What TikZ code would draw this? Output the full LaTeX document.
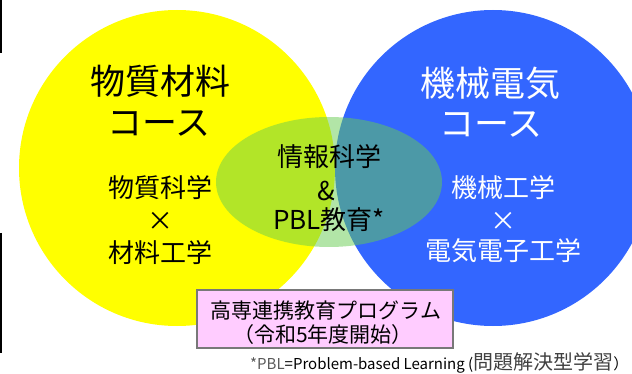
\documentclass[tikz,border=0pt]{standalone}
\usepackage{fontspec}
\setmainfont{Noto Sans CJK JP}
\definecolor{courseyellow}{RGB}{255,255,0}
\definecolor{courseblue}{RGB}{51,102,255}
\definecolor{infogreen}{RGB}{102,204,80}
\definecolor{progpink}{RGB}{255,204,255}
\definecolor{boxgray}{RGB}{120,120,120}

\begin{document}
\begin{tikzpicture}[x=1pt,y=-1pt,
  every node/.style={inner sep=0pt,anchor=center},
  coursename/.style={font=\fontsize{35}{40}\selectfont},
  subject/.style={font=\fontsize{26}{30}\selectfont},
  progtext/.style={font=\fontsize{21}{24}\selectfont},
  note/.style={font=\fontsize{15}{18}\selectfont,anchor=base west}]
\useasboundingbox (0,0) rectangle (632,374);
\clip (0,0) rectangle (632,374);
% side marks
\draw [black,line width=1.5pt] (0.75,0) -- (0.75,53);
\draw [black,line width=1.5pt] (0.75,233) -- (0.75,353);
% courses
\fill [courseyellow] (177,168) circle (158pt);
\fill [courseblue] (493,168) circle (158pt);
\fill [infogreen,opacity=0.5] (329,182) ellipse (113pt and 65pt);
% left course
\node [coursename] (matname) at (160,81) {物質材料};
\node [coursename] (matcourse) at (159,124) {コース};
\node [subject] (matsci) at (160,188) {物質科学};
\node [subject] (matx) at (160,221) {×};
\node [subject] (mateng) at (160,253) {材料工学};
% right course
\node [coursename,white] (mecname) at (490,83) {機械電気};
\node [coursename,white] (meccourse) at (491,125) {コース};
\node [subject,white] (meceng) at (503,188) {機械工学};
\node [subject,white] (mecx) at (503,221) {×};
\node [subject,white] (eleceng) at (503,251) {電気電子工学};
% overlap
\node [subject] (infosci) at (329,157) {情報科学};
\node [subject] (amp) at (326,191) {\&};
\node [subject] (pbl) at (329,220) {PBL教育*};
% program box
\draw [boxgray,fill=progpink,line width=1.2pt] (197,290) rectangle (453,348);
\node [progtext] (progname) at (326,311) {高専連携教育プログラム};
\node [progtext] (progstart) at (323,335) {（令和5年度開始）};
% footnote
\node [note] (pblnote) at (250,369) {\textcolor{black!65}{*PBL}=Problem-based Learning (\textcolor{black!75}{\fontsize{20}{20}\selectfont 問題解決型学習}）};
\end{tikzpicture}
\end{document}
